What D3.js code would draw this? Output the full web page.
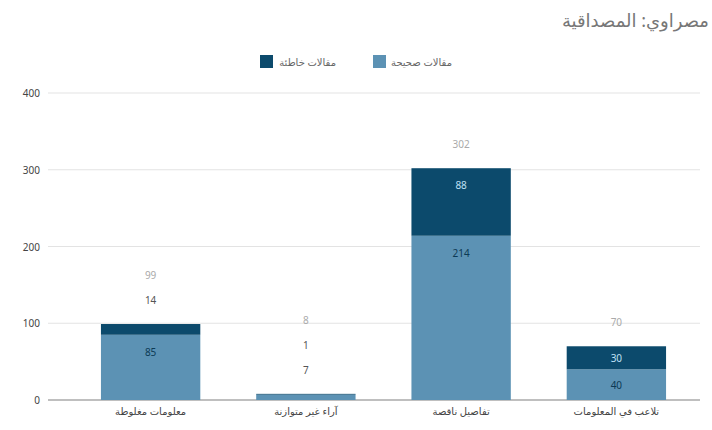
<!DOCTYPE html>
<html><head><meta charset="utf-8">
<script src="https://cdn.jsdelivr.net/npm/d3@7"></script>
<style>body{margin:0;background:#fff;overflow:hidden}svg{font-family:"Noto Sans","DejaVu Sans",sans-serif}</style>
</head><body><svg id="c" width="712" height="430"></svg>
<script>
const title = "مصراوي: المصداقية";
const categories = ["معلومات مغلوطة", "آراء غير متوازنة", "تفاصيل ناقصة", "تلاعب في المعلومات"];
const seriesNames = ["مقالات صحيحة", "مقالات خاطئة"];
const correct = [85, 7, 214, 40];
const wrong = [14, 1, 88, 30];
const yTicks = [0, 100, 200, 300, 400];
const colors = ["#5c92b4", "#0c4a6c"];

const svg = d3.select("#c");
const x = d3.scaleBand().domain(categories).range([73, 694]).paddingInner(0.36).paddingOuter(0.18);
const y = d3.scaleLinear().domain([0, 400]).range([400, 93]);

// title
svg.append("text").attr("x", 709).attr("y", 27).attr("text-anchor", "end")
  .attr("font-size", 18).attr("fill", "#777").text(title);

// legend
const leg = [{n: seriesNames[1], c: colors[1], bx: 260, tx: 336}, {n: seriesNames[0], c: colors[0], bx: 373, tx: 452}];
leg.forEach(l => {
  svg.append("rect").attr("x", l.bx).attr("y", 55).attr("width", 13).attr("height", 13).attr("fill", l.c);
  svg.append("text").attr("x", l.tx).attr("y", 66).attr("text-anchor", "end").attr("font-size", 10).attr("fill", "#666").text(l.n);
});

// grid
const g = svg.append("g");
yTicks.forEach(t => {
  g.append("line").attr("x1", 48).attr("x2", 700).attr("y1", y(t)).attr("y2", y(t))
    .attr("stroke", t === 0 ? "#aaa" : "#e3e3e3").attr("stroke-width", t === 0 ? 1.5 : 1);
  g.append("text").attr("x", 40).attr("y", y(t) + 4).attr("text-anchor", "end").attr("font-size", 10).attr("fill", "#444").text(t);
});

// stacked bars
const data = categories.map((c, i) => ({c, vals: [correct[i], wrong[i]]}));
data.forEach(d => {
  let base = 0;
  const outside = [];
  d.vals.forEach((v, k) => {
    const y0 = y(base), y1 = y(base + v);
    svg.append("rect").attr("x", x(d.c)).attr("y", y1).attr("width", x.bandwidth()).attr("height", y0 - y1).attr("fill", colors[k]);
    const h = y0 - y1;
    if (h >= 20) {
      svg.append("text").attr("x", x(d.c) + x.bandwidth() / 2).attr("y", y1 + Math.min(17, h / 2) + 4)
        .attr("text-anchor", "middle").attr("font-size", 10)
        .attr("fill", k === 1 ? "#bfe0f5" : "#0c3a55").text(v);
    } else {
      outside.push({v, col: "#555"});
    }
    base += v;
  });
  outside.push({v: base, col: "#aaa"});
  const top = y(base);
  outside.forEach((o, j) => {
    svg.append("text").attr("x", x(d.c) + x.bandwidth() / 2).attr("y", top - 20 - 25 * j)
      .attr("text-anchor", "middle").attr("font-size", 10).attr("fill", o.col).text(o.v);
  });
  svg.append("text").attr("x", x(d.c) + x.bandwidth() / 2).attr("y", 415).attr("text-anchor", "middle")
    .attr("font-size", 10).attr("fill", "#444").text(d.c);
});
</script></body></html>
